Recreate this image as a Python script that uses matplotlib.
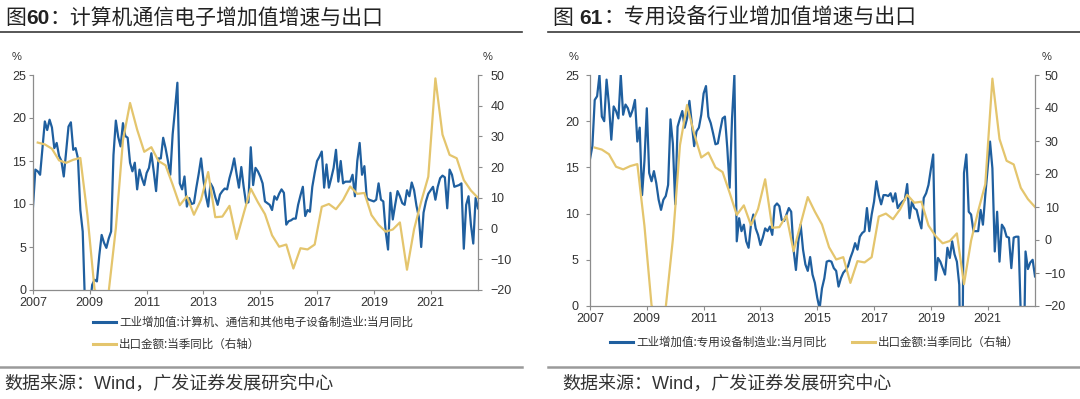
import matplotlib
matplotlib.use("Agg")
import matplotlib.pyplot as plt
import numpy as np

# ---------------- data ----------------
start_year = 2007
# 工业增加值:计算机、通信和其他电子设备制造业:当月同比 (monthly, 2007-01 .. 2022-09)
ind_electronics = [
    9.7, 14.0, 13.8, 13.4, 16.5, 19.6, 18.6, 19.8, 18.9, 16.5, 17.1, 15.6,
    15.0, 13.2, 16.1, 19.0, 19.5, 16.3, 16.5, 15.3, 9.3, 6.8, -2.0, -4.0,
    -2.0, 0.6, 1.2, 1.0, 4.0, 6.4, 5.5, 4.9, 6.0, 6.8, 15.7, 19.7,
    17.8, 16.7, 19.4, 17.9, 17.7, 14.8, 13.8, 14.8, 11.7, 14.0, 13.0, 12.2,
    13.6, 14.2, 15.9, 13.8, 11.5, 15.3, 15.3, 17.7, 16.5, 15.0, 13.4, 18.1,
    21.0, 24.1, 12.4, 11.7, 13.2, 9.7, 10.7, 10.0, 10.1, 11.9, 13.5, 15.3,
    12.8, 11.0, 9.7, 12.4, 11.9, 10.8, 9.9, 11.1, 11.5, 11.8, 11.7, 13.0,
    14.0, 15.3, 13.5, 11.9, 14.3, 12.0, 10.1, 10.2, 16.6, 12.2, 14.2, 13.8,
    13.2, 12.4, 10.3, 10.1, 9.9, 9.3, 10.9, 10.5, 11.2, 11.7, 11.3, 7.6,
    8.0, 8.1, 8.3, 8.3, 9.9, 11.0, 12.0, 8.6, 9.3, 9.1, 12.0, 13.6,
    15.0, 15.5, 16.1, 11.9, 14.6, 11.9, 13.0, 14.2, 16.3, 12.6, 15.0, 12.4,
    12.6, 12.6, 12.6, 13.4, 10.9, 15.0, 17.1, 13.4, 14.4, 10.7, 10.5, 10.4,
    10.3, 10.5, 12.4, 10.5, 10.3, 6.8, 4.7, 11.3, 8.2, 9.9, 11.5, 10.9,
    10.1, 9.9, 11.6, 10.9, 12.5, 11.6, 9.8, 8.5, 5.0, 9.0, 10.3, 11.2,
    11.6, 12.0, 10.5, 12.0, 13.0, 13.3, 13.1, 9.5, 14.0, 13.4, 12.0, 12.1,
    12.2, 12.4, 4.8, 9.9, 10.9, 7.6, 5.4, 10.7, 9.5,
]
# 工业增加值:专用设备制造业:当月同比 (monthly, 2007-01 .. 2022-09)
ind_special_equip = [
    15.9, 17.3, 22.3, 22.7, 25.0, 20.5, 20.0, 24.5, 21.8, 18.0, 21.6, 21.1,
    20.3, 25.0, 20.7, 21.8, 21.4, 20.5, 21.2, 22.3, 17.8, 19.3, 12.0, 15.7,
    21.4, 14.4, 13.5, 14.6, 13.3, 11.5, 10.4, 11.5, 11.9, 13.1, 20.2, 17.6,
    11.0, 19.4, 20.3, 21.1, 19.3, 20.3, 22.2, 19.8, 17.3, 18.9, 19.3, 20.7,
    23.0, 23.8, 20.5, 19.8, 18.7, 17.5, 17.6, 19.0, 20.3, 20.5, 17.1, 12.8,
    20.3, 25.0, 7.0, 9.5, 8.1, 8.8, 7.0, 6.3, 8.8, 9.9, 8.4, 7.7,
    6.6, 7.4, 8.4, 8.1, 8.6, 7.7, 10.8, 11.1, 10.8, 9.3, 9.2, 9.9,
    10.6, 10.2, 6.1, 3.9, 7.0, 8.8, 6.1, 4.5, 3.8, 5.3, 3.4, 2.5,
    0.9, -0.3, 1.9, 3.0, 4.8, 4.9, 4.8, 4.1, 3.8, 2.1, 3.0, 3.6,
    3.9, 4.3, 5.2, 5.9, 6.8, 6.1, 7.5, 7.9, 8.1, 10.6, 8.1, 9.9,
    11.3, 13.5, 12.0, 11.0, 12.0, 12.0, 11.9, 12.2, 11.3, 12.2, 10.6, 11.0,
    11.3, 11.5, 13.2, 9.5, 11.3, 10.6, 10.4, 9.3, 8.4, 11.7, 12.2, 13.1,
    14.8, 16.4, 2.8, 5.2, 4.8, 4.1, 3.4, 6.3, 5.2, 7.0, 5.6, 4.8,
    2.3, -15.0, 14.4, 16.4, 10.2, 9.9, 8.1, 8.1, 8.1, 10.4, 8.8, 12.0,
    14.9, 17.8, 14.9, 5.9, 10.2, 4.8, 8.8, 8.4, 7.5, 7.4, 4.1, 7.4,
    7.5, 7.5, -1.0, -10.0, 5.9, 4.0, 4.7, 5.0, 3.2,
]
# 出口金额:当季同比 (quarterly, 2007Q1 .. 2022Q3)
export_q_yoy = [
    28.0, 27.4, 26.0, 22.2,
    21.4, 22.4, 23.0, 4.3,
    -19.8, -23.5, -20.4, 0.1,
    28.7, 40.9, 32.2, 25.0,
    26.5, 22.0, 20.6, 14.3,
    7.6, 10.5, 4.5, 9.4,
    18.4, 3.7, 3.9, 7.4,
    -3.4, 4.9, 13.0, 8.6,
    4.7, -2.2, -5.9, -5.2,
    -13.0, -6.4, -6.8, -5.2,
    7.1, 8.0, 6.3, 9.3,
    13.7, 11.3, 11.6, 4.4,
    1.2, -1.0, -0.3, 2.0,
    -13.4, -0.2, 8.8, 16.9,
    48.9, 30.6, 24.0, 22.9,
    15.8, 12.4, 10.0,
]
xtick_years = [2007, 2009, 2011, 2013, 2015, 2017, 2019, 2021]
left_ticks = [0, 5, 10, 15, 20, 25]
right_ticks = [-20, -10, 0, 10, 20, 30, 40, 50]

title_left = [("图", "normal"), ("60", "bold"), ("：计算机通信电子增加值增速与出口", "normal")]
title_right = [("图 ", "normal"), ("61", "bold"), ("：专用设备行业增加值增速与出口", "normal")]
label_left_blue = "工业增加值:计算机、通信和其他电子设备制造业:当月同比"
label_right_blue = "工业增加值:专用设备制造业:当月同比"
label_export = "出口金额:当季同比（右轴）"
source_text = "数据来源：Wind，广发证券发展研究中心"

# ---------------- style ----------------
W, H = 1080, 399
BLUE = "#1F5F9F"
GOLD = "#E4C56D"
GRAY = "#8C8C8C"
TXT = "#333333"
CJK = ["Liberation Sans", "Noto Sans CJK SC", "DejaVu Sans"]
plt.rcParams["font.family"] = CJK

fig = plt.figure(figsize=(W / 100, H / 100), dpi=100)
renderer = fig.canvas.get_renderer()


def rect(x0, y0, x1, y1):
    return [x0 / W, 1 - y1 / H, (x1 - x0) / W, (y1 - y0) / H]


def fx(x):
    return x / W


def fy(y):
    return 1 - y / H


t_month = start_year + np.arange(len(ind_electronics)) / 12.0
t_quarter = start_year + (np.arange(len(export_q_yoy)) * 3 + 2) / 12.0


def panel(box, blue, ypad_l, ypad_r):
    ax = fig.add_axes(rect(*box))
    ax2 = ax.twinx()
    l1, = ax.plot(t_month, blue, color=BLUE, lw=1.6, solid_joinstyle="round")
    l2, = ax2.plot(t_quarter, export_q_yoy, color=GOLD, lw=1.6, solid_joinstyle="round")
    ax.set_xlim(t_month[0], t_month[-1])
    ax.set_ylim(0, 25)
    ax2.set_ylim(-20, 50)
    ax.set_yticks(left_ticks)
    ax2.set_yticks(right_ticks)
    ax.set_xticks(xtick_years)
    ax.set_xticklabels([str(y) for y in xtick_years])
    for a in (ax, ax2):
        for s in a.spines.values():
            s.set_color(GRAY)
            s.set_linewidth(0.9)
        a.spines["top"].set_visible(False)
    ax.spines["right"].set_visible(False)
    ax2.spines["left"].set_visible(False)
    ax2.spines["bottom"].set_visible(False)
    ax.tick_params(axis="x", direction="out", length=3, color=GRAY,
                   labelsize=9, labelcolor=TXT, pad=2)
    ax.tick_params(axis="y", direction="out", length=3, color=GRAY,
                   labelsize=9, labelcolor=TXT, pad=ypad_l)
    ax2.tick_params(axis="y", direction="out", length=3, color=GRAY,
                    labelsize=9, labelcolor=TXT, pad=ypad_r)
    return ax, ax2, l1, l2


axL, axL2, bl1, yl1 = panel((33, 75, 478, 290), ind_electronics, 2, 6)
axR, axR2, bl2, yl2 = panel((590, 75, 1035, 306), ind_special_equip, 5, 4)

# % unit labels
for x, y in [(17, 57), (488, 57), (574, 57), (1047, 57)]:
    fig.text(fx(x), fy(y), "%", ha="center", va="center", fontsize=8, color=TXT)


# titles
def title(x, y, parts, size):
    cur = x
    for txt, w in parts:
        t = fig.text(fx(cur), fy(y), txt, fontsize=size, fontweight=w,
                     va="baseline", ha="left", color="#222222")
        cur += t.get_window_extent(renderer).width


title(5, 24, title_left, 15)
title(553, 24, title_right, 15)

# rules
fig.add_artist(plt.Line2D([0, fx(522)], [fy(32)] * 2, color="#3a3a3a", lw=1.2))
fig.add_artist(plt.Line2D([fx(548), 1], [fy(32)] * 2, color="#3a3a3a", lw=1.2))
fig.add_artist(plt.Line2D([0, fx(522)], [fy(367)] * 2, color="#9a9a9a", lw=1.8))
fig.add_artist(plt.Line2D([fx(548), 1], [fy(367)] * 2, color="#9a9a9a", lw=1.8))

# sources
fig.text(fx(4), fy(389), source_text, fontsize=13, va="baseline", ha="left", color=TXT)
fig.text(fx(562), fy(389), source_text, fontsize=13, va="baseline", ha="left", color=TXT)

# legends
lp = dict(family=["Noto Sans CJK SC", "DejaVu Sans"], size=8.3)
legL = axL.legend([bl1, yl1], [label_left_blue, label_export], loc="upper left",
                  bbox_to_anchor=(fx(93), fy(316)), bbox_transform=fig.transFigure,
                  frameon=False, prop=lp, handlelength=2.0, handletextpad=0.25,
                  labelspacing=0.75, borderpad=0, borderaxespad=0)
for t in legL.get_texts():
    t.set_color(TXT)
for h in legL.get_lines():
    h.set_linewidth(2.2)

legR = axR.legend([bl2, yl2], [label_right_blue, label_export], loc="upper left",
                  bbox_to_anchor=(fx(610), fy(336)), bbox_transform=fig.transFigure,
                  frameon=False, prop=lp, ncol=2, handlelength=2.0, handletextpad=0.25,
                  columnspacing=2.2, borderpad=0, borderaxespad=0)
for t in legR.get_texts():
    t.set_color(TXT)
for h in legR.get_lines():
    h.set_linewidth(2.2)

fig.savefig("out.png", dpi=100)
